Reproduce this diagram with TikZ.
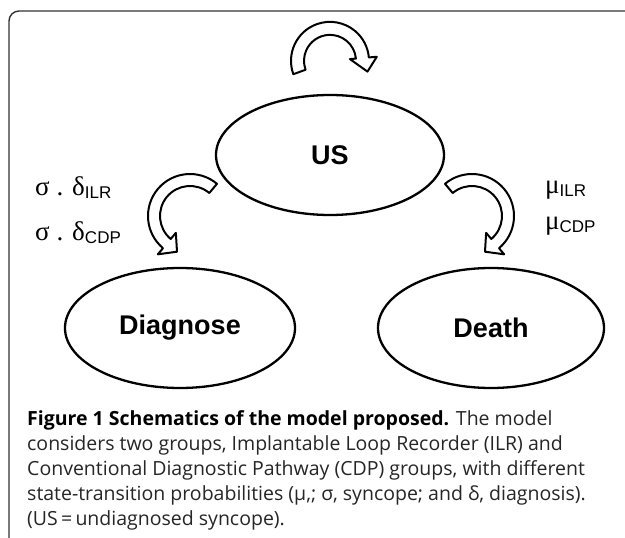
\documentclass[tikz,border=0pt]{standalone}
\usepackage{fontspec}
\setmainfont{Liberation Sans}
\newfontfamily\capfont{Open Sans}
\newfontfamily\greekfont{Liberation Serif}
\newfontfamily\subfont{Liberation Sans}
\usetikzlibrary{shapes.geometric, calc, positioning}
\newcommand{\rsub}[1]{\raisebox{-3pt}{\fontsize{17}{17}\subfont #1}}
\tikzset{
  stateoval/.style={draw, ellipse, line width=2.3pt, inner sep=0pt, minimum height=120pt, font=\fontsize{27}{27}\selectfont\bfseries},
  blockarrow/.style={draw, line width=2pt, fill=white, line join=round},
  ratelabel/.style={anchor=base west, inner sep=0pt, font=\fontsize{27}{27}\greekfont}
}

\begin{document}
\begin{tikzpicture}[x=1pt, y=-1pt]
  \fill[white] (0,0) rectangle (625,538);
  \useasboundingbox (0,0) rectangle (625,538);
  % frame
  \draw[line width=1.4pt, black!80, rounded corners=10pt] (9,538) -- (9,11) -- (626,11);

  % states
  \node[stateoval, minimum width=228pt] (us) at (330,155) {US};
  \node[stateoval, minimum width=230pt] (diag) at (180,328) {Diagnose};
  \node[stateoval, minimum width=226pt] (death) at (491,328) {Death};

  % centres of the curved arrows
  \coordinate (selfc) at ($(us.north)+(0,-33)$);
  \coordinate (diagc) at ($(us.center)+(-140,61)$);
  \coordinate (deathc) at ($(us.center)+(142,61)$);

  \draw[blockarrow, shift={(selfc)}] (160:39) arc[start angle=160, end angle=355, radius=39]
    -- (355:47) -- (16:39) -- (355:20) -- (355:26) arc[start angle=355, end angle=160, radius=26] -- cycle;
  \draw[blockarrow, shift={(diagc)}] (310:42) arc[start angle=310, end angle=130, radius=42]
    -- (130:50) -- (110:38) -- (130:22) -- (130:30) arc[start angle=130, end angle=310, radius=30] -- cycle;
  \draw[blockarrow, shift={(deathc)}] (230:42) arc[start angle=230, end angle=410, radius=42]
    -- (410:50) -- (430:38) -- (410:22) -- (410:30) arc[start angle=410, end angle=230, radius=30] -- cycle;

  % rates
  \node[ratelabel] (dilr) at (35,195) {σ . δ\rsub{ILR}};
  \node[ratelabel] (dcdp) at (35,240) {σ . δ\rsub{CDP}};
  \node[ratelabel] (milr) at (545,193) {μ\rsub{ILR}};
  \node[ratelabel] (mcdp) at (545,229) {μ\rsub{CDP}};

  % caption
  \node[anchor=north west, align=left, inner sep=0pt, text=black!85,
        font=\fontsize{19.5}{25}\capfont] (cap) at (27,410)
    {\textbf{\color{black}Figure 1 Schematics of the model proposed.} The model\\
     considers two groups, Implantable Loop Recorder (ILR) and\\
     Conventional Diagnostic Pathway (CDP) groups, with different\\
     state-transition probabilities (μ,; σ, syncope; and δ, diagnosis).\\
     (US\,=\,undiagnosed syncope).};
\end{tikzpicture}
\end{document}
